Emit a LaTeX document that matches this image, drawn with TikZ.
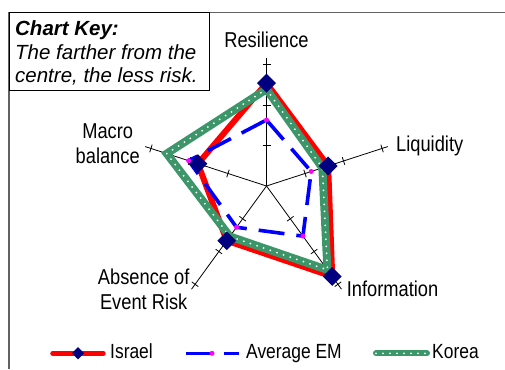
\documentclass[tikz,border=0pt]{standalone}
\usepackage{fontspec}
\setmainfont{Liberation Sans}
\newfontfamily\narrowFont[FakeStretch=0.85]{Liberation Sans}
\usetikzlibrary{shapes, positioning, calc}
\colorlet{frameColor}{black!62}
\definecolor{israelColor}{RGB}{255,0,0}
\definecolor{markColor}{RGB}{0,0,128}
\definecolor{emColor}{RGB}{0,0,255}
\definecolor{emMarkColor}{RGB}{255,0,255}
\definecolor{koreaColor}{RGB}{60,150,105}
\newcommand{\tickStep}{40.5pt}
\tikzstyle{frameLine}=[draw=frameColor, line width=1.3pt]
\tikzstyle{keyBox}=[rectangle, draw=black, line width=0.9pt, inner sep=0pt]
\tikzstyle{keyText}=[font=\itshape\fontsize{20.5}{23.5}\selectfont, align=left, inner sep=0pt]
\tikzstyle{axisLine}=[draw=black, line width=0.8pt]
\tikzstyle{axisLabel}=[font=\narrowFont\fontsize{21.5}{25}\selectfont, align=center, inner sep=0pt]
\tikzstyle{legendText}=[font=\narrowFont\fontsize{20.5}{24}\selectfont, inner sep=0pt]
\tikzstyle{israelLine}=[draw=israelColor, line width=6pt]
\tikzstyle{emLine}=[draw=emColor, line width=3.6pt, dash pattern=on 26pt off 12pt]
\tikzstyle{koreaLine}=[draw=koreaColor, line width=8pt]
\tikzstyle{koreaDots}=[draw=white, line width=2pt, line cap=round, dash pattern=on 0pt off 7pt]
\tikzstyle{israelMark}=[diamond, fill=markColor, minimum width=19pt, minimum height=19pt, inner sep=0pt]
\tikzstyle{emMark}=[circle, fill=emMarkColor, minimum size=5pt, inner sep=0pt]

\begin{document}
\begin{tikzpicture}[x=1pt, y=1pt]
  \useasboundingbox (-266.5,-183) rectangle (238.5,186);
  % chart area frame
  \coordinate (frameCorner) at (-257.5,173.7);
  \coordinate (frameRight) at (238.5,173.7);
  \coordinate (frameBottom) at (-257.5,-183);
  \draw[frameLine] (frameRight) -- (frameCorner) -- (frameBottom);
  % axes and ticks
  \coordinate (centre) at (0,0);
  \foreach \name/\ang in {res/90, liq/18, inf/-54, abs/-126, mac/162} {
    \coordinate (end-\name) at (\ang:3.15*\tickStep);
    \draw[axisLine] (centre) -- (end-\name);
    \foreach \k in {1,2,3}
      \draw[axisLine] ($(\ang:\k*\tickStep)+(\ang+90:4pt)$) -- ($(\ang:\k*\tickStep)+(\ang-90:4pt)$);
  }
  % data points
  \foreach \name/\ang/\isr/\avg/\kor in {res/90/2.54/1.63/2.39, liq/18/1.60/1.16/1.45,
      inf/-54/2.76/1.53/2.56, abs/-126/1.67/1.26/1.54, mac/162/1.78/2.02/2.59} {
    \coordinate (isr-\name) at (\ang:\isr*\tickStep);
    \coordinate (avg-\name) at (\ang:\avg*\tickStep);
    \coordinate (kor-\name) at (\ang:\kor*\tickStep);
  }
  \draw[israelLine] (isr-res) -- (isr-liq) -- (isr-inf) -- (isr-abs) -- (isr-mac) -- cycle;
  \draw[emLine] (avg-res) -- (avg-liq) -- (avg-inf) -- (avg-abs) -- (avg-mac) -- cycle;
  \draw[koreaLine] (kor-res) -- (kor-liq) -- (kor-inf) -- (kor-abs) -- (kor-mac) -- cycle;
  \draw[koreaDots] (kor-res) -- (kor-liq) -- (kor-inf) -- (kor-abs) -- (kor-mac) -- cycle;
  \foreach \name in {res, liq, inf, abs, mac} {
    \node (isrMark-\name) [israelMark] at (isr-\name) {};
    \node (avgMark-\name) [emMark] at (avg-\name) {};
  }
  % axis labels
  \node (resLabel) [axisLabel, anchor=base] at (0,138) {Resilience};
  \node (liqLabel) [axisLabel, anchor=base west] at (129.5,34.3) {Liquidity};
  \node (infLabel) [axisLabel, anchor=base west] at (80.2,-110.7) {Information};
  \node (macLabel) [axisLabel, anchor=base] at (-158.8,22.7) {Macro\\balance};
  \node (absLabel) [axisLabel, anchor=base] at (-122.8,-123.3) {Absence of\\Event Risk};
  % chart key
  \node (keyFrame) [keyBox, anchor=north west, minimum width=200pt, minimum height=77.7pt] at (frameCorner) {};
  \node (keyText) [keyText, anchor=base west] at (-251.5,103) {\textbf{Chart Key:}\\The farther from the\\centre, the less risk.};
  % legend
  \coordinate (isrKeyStart) at (-213.5,-167.3);
  \coordinate (isrKeyEnd) at (-163.5,-167.3);
  \draw[israelLine, line width=5.5pt, line cap=round] (isrKeyStart) -- (isrKeyEnd);
  \node (isrKeyMark) [israelMark, minimum width=12.5pt, minimum height=12.5pt] at ($(isrKeyStart)!0.5!(isrKeyEnd)$) {};
  \node (isrKeyText) [legendText, anchor=base west] at (-156.5,-172.3) {Israel};
  \coordinate (avgKeyStart) at (-80.8,-167.3);
  \coordinate (avgKeyEnd) at (-27.2,-167.3);
  \draw[emLine, line width=3.2pt] (avgKeyStart) -- (avgKeyEnd);
  \node (avgKeyMark) [emMark] at (-54.5,-167.3) {};
  \node (avgKeyText) [legendText, anchor=base west] at (-20.5,-172.3) {Average EM};
  \coordinate (korKeyStart) at (109.5,-167.3);
  \coordinate (korKeyEnd) at (160.5,-167.3);
  \draw[koreaLine, line width=6pt, line cap=round] (korKeyStart) -- (korKeyEnd);
  \draw[koreaDots] (korKeyStart) -- (korKeyEnd);
  \node (korKeyText) [legendText, anchor=base west] at (165.5,-172.3) {Korea};
\end{tikzpicture}
\end{document}
